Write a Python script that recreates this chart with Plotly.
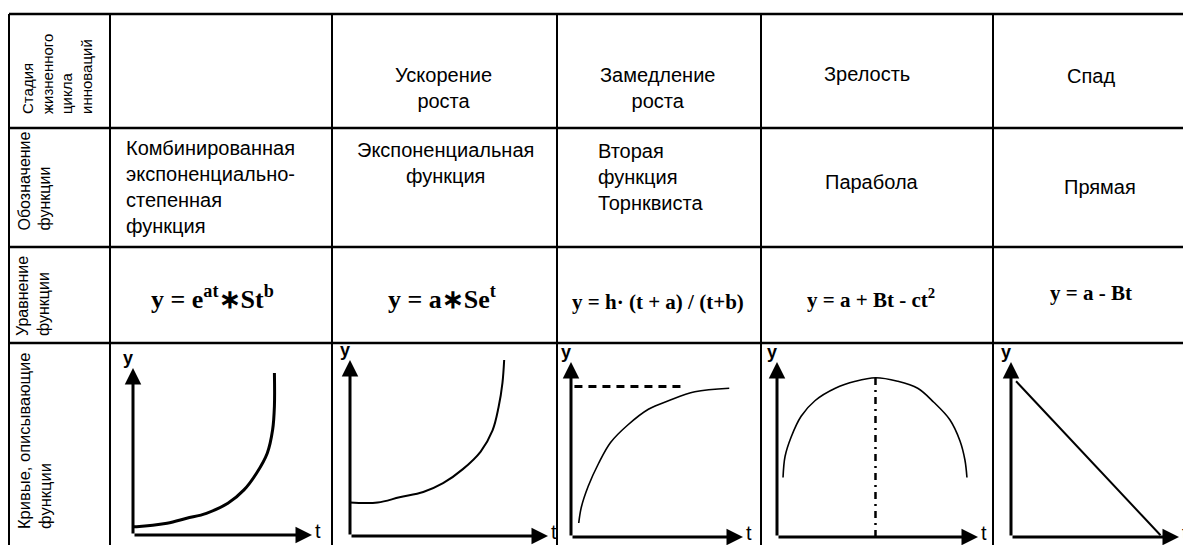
import plotly.graph_objects as go

W, H = 1191, 545

# table text
row_labels = ['Стадия<br>жизненного<br>цикла<br>инноваций', 'Обозначение<br>функции',
              'Уравнение<br>функции', 'Кривые, описывающие<br>функции']
stages = ['', 'Ускорение<br>роста', 'Замедление<br>роста', 'Зрелость', 'Спад']
func_names = ['Комбинированная<br>экспоненциально-<br>степенная<br>функция',
              'Экспоненциальная<br>функция', 'Вторая<br>функция<br>Торнквиста',
              'Парабола', 'Прямая']
equations = ['y = e<sup>at</sup>∗St<sup>b</sup>', 'y = a∗Se<sup>t</sup>',
             'y = h· (t + a) / (t+b)', 'y = a + Bt - ct<sup>2</sup>', 'y = a - Bt']

# curves, local units (axis arrows run 0..10)
t_comb = [0.0, 0.2, 1.9, 3.0, 4.1, 5.3, 6.2, 6.9, 7.5, 7.8, 7.9, 7.9]
y_comb = [0.5, 0.5, 0.7, 1.0, 1.3, 1.9, 2.7, 3.7, 4.9, 6.3, 7.7, 9.7]
t_exp = [0.0, 1.4, 2.5, 3.7, 4.7, 5.7, 6.6, 7.2, 7.5, 7.7, 7.8]
y_exp = [1.9, 1.9, 2.2, 2.5, 3.0, 3.8, 4.8, 6.0, 7.3, 8.7, 10.3]
t_torn = [0.45, 0.6, 1.0, 1.6, 2.3, 3.3, 4.5, 5.7, 7.2, 9.2]
y_torn = [0.8, 1.7, 2.9, 4.2, 5.4, 6.4, 7.3, 7.8, 8.3, 8.5]
t_asym = [0.2, 6.4]
y_asym = [8.6, 8.6]
t_par = [0.3, 0.4, 0.7, 1.2, 1.9, 2.9, 3.9, 4.9, 6.0, 7.0, 7.8, 8.6, 9.1, 9.35, 9.45]
y_par = [3.4, 4.6, 5.7, 6.9, 7.8, 8.5, 8.9, 9.1, 8.9, 8.5, 7.7, 6.7, 5.5, 4.4, 3.4]
t_peak = [4.9, 4.9]
y_peak = [0.0, 9.1]
t_line = [0.3, 8.9]
y_line = [8.9, 0.1]

COL_EDGES = [9, 110, 332, 557, 761, 993, 1199]
ROW_EDGES = [14, 128, 247, 343, 553]
# mini plots: origin x, origin y, x-arrow length, y-arrow length (pixels)
CELLS = [(133, 535, 179, 167), (350, 536, 198, 176), (571, 537, 172, 175),
         (777, 537, 201, 175), (1011, 537, 168, 175)]
OFFSET = 8  # page margin around the figure


def px(x):
    return (x - OFFSET) / W


def py(y):
    return 1 - (y - OFFSET) / H


fig = go.Figure()
layout_axes = {}
annotations = []

curves = [
    [(t_comb, y_comb, 3, 'solid')],
    [(t_exp, y_exp, 2, 'solid')],
    [(t_torn, y_torn, 1.6, 'solid'), (t_asym, y_asym, 3, '8px,6px')],
    [(t_par, y_par, 1.6, 'solid'), (t_peak, y_peak, 2.5, '7px,5px,2px,5px')],
    [(t_line, y_line, 2, 'solid')],
]

for i, (ox, oy, cw, ch) in enumerate(CELLS):
    n = '' if i == 0 else str(i + 1)
    layout_axes['xaxis' + n] = dict(domain=[px(ox), px(ox + cw)], range=[0, 10],
                                    visible=False, fixedrange=True, anchor='y' + n)
    layout_axes['yaxis' + n] = dict(domain=[py(oy), py(oy - ch)], range=[0, 10],
                                    visible=False, fixedrange=True, anchor='x' + n)
    for xs, ys, w, dash in curves[i]:
        fig.add_trace(go.Scatter(x=xs, y=ys, mode='lines', xaxis='x' + n, yaxis='y' + n,
                                 line=dict(color='black', width=w, dash=dash, shape='spline'),
                                 hoverinfo='skip', showlegend=False, cliponaxis=False))
    for tip in [(10, 0), (0, 10)]:
        annotations.append(dict(x=tip[0], y=tip[1], ax=0, ay=0, xref='x' + n, yref='y' + n,
                                axref='x' + n, ayref='y' + n, text='', showarrow=True,
                                arrowhead=2, arrowsize=1.1, arrowwidth=3, arrowcolor='black',
                                standoff=0, startstandoff=0))
    annotations.append(dict(x=0, y=10, xref='x' + n, yref='y' + n, text='<b>y</b>',
                            showarrow=False, xanchor='center', yanchor='middle',
                            xshift=-5, yshift=10,
                            font=dict(family='Liberation Sans', size=18, color='black')))
    annotations.append(dict(x=10, y=0, xref='x' + n, yref='y' + n, text='t',
                            showarrow=False, xanchor='left', yanchor='middle',
                            xshift=1, yshift=4,
                            font=dict(family='Liberation Sans', size=20, color='black')))

sans = dict(family='Liberation Sans, Arial', size=20, color='black')
serif_big = dict(family='Liberation Serif, Times New Roman', size=26, color='black')
serif_small = dict(family='Liberation Serif, Times New Roman', size=21, color='black')

# row labels, rotated
label_bottoms = [116, 233, 338, 531]
label_x = [17, 14, 12, 13]
label_size = [15, 16, 16, 16.5]
for text, yb, xl, fs in zip(row_labels, label_bottoms, label_x, label_size):
    annotations.append(dict(x=px(xl), y=py(yb), xref='paper', yref='paper', text=text,
                            textangle=-90, xanchor='left', yanchor='bottom', align='left',
                            showarrow=False,
                            font=dict(family='Liberation Sans, Arial', size=fs, color='black')))

stage_pos = [(221, 80), (443, 88), (657, 88), (867, 74), (1091, 76)]
for text, (x, y) in zip(stages, stage_pos):
    if text:
        annotations.append(dict(x=px(x), y=py(y), xref='paper', yref='paper', text=text,
                                showarrow=False, font=sans, align='center',
                                xanchor='center', yanchor='middle'))

func_pos = [(124, 187, 'left'), (445, 163, 'center'), (596, 177, 'left'),
            (872, 182, 'center'), (1100, 187, 'center')]
for text, (x, y, al) in zip(func_names, func_pos):
    annotations.append(dict(x=px(x), y=py(y), xref='paper', yref='paper', text=text,
                            showarrow=False, font=sans, align=al,
                            xanchor='left' if al == 'left' else 'center', yanchor='middle'))

eq_pos = [(212, 297), (442, 297), (658, 302), (871, 298), (1091, 293)]
for k, (text, (x, y)) in enumerate(zip(equations, eq_pos)):
    annotations.append(dict(x=px(x), y=py(y), xref='paper', yref='paper',
                            text='<b>' + text + '</b>', showarrow=False,
                            xanchor='center', yanchor='middle',
                            font=serif_big if k < 2 else serif_small))

shapes = []
for y in ROW_EDGES[:-1]:
    shapes.append(dict(type='line', xref='paper', yref='paper', x0=px(COL_EDGES[0]),
                       x1=px(COL_EDGES[-1]), y0=py(y), y1=py(y),
                       line=dict(color='black', width=2.5)))
for x in COL_EDGES[:-1]:
    shapes.append(dict(type='line', xref='paper', yref='paper', x0=px(x), x1=px(x),
                       y0=py(ROW_EDGES[0]), y1=py(ROW_EDGES[-1]),
                       line=dict(color='black', width=2)))

fig.update_layout(
    width=W, height=H,
    margin=dict(l=0, r=0, t=0, b=0),
    paper_bgcolor='white', plot_bgcolor='white',
    showlegend=False,
    shapes=shapes,
    annotations=annotations,
    **layout_axes
)

fig.write_html("out.html")
